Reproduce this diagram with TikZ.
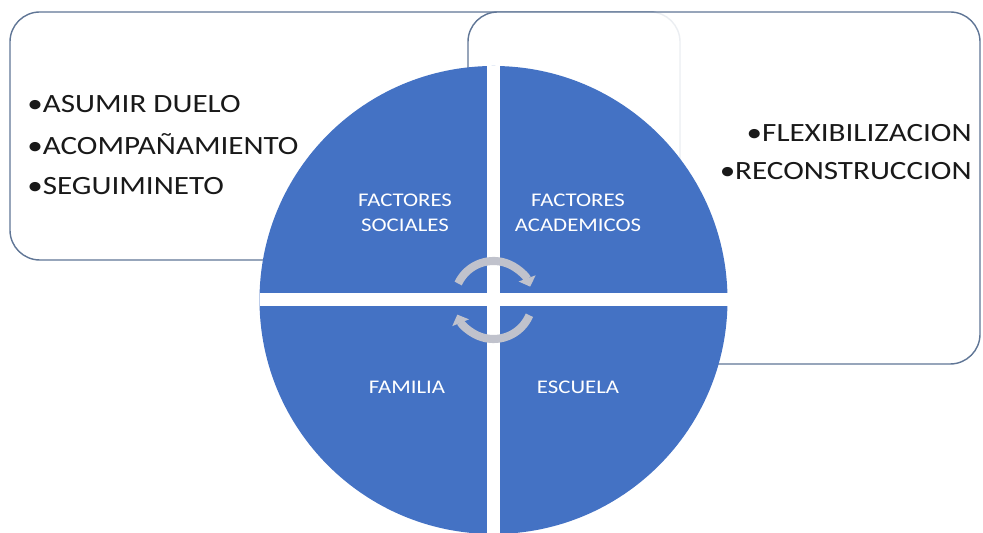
\documentclass[tikz,border=0pt]{standalone}
\usepackage{fontspec}
\setmainfont[FakeStretch=1.18]{Carlito}
\usetikzlibrary{arrows.meta}
\definecolor{quadblue}{RGB}{68,114,196}
\definecolor{boxline}{RGB}{96,118,150}
\definecolor{cyclegray}{RGB}{192,194,204}

\begin{document}
\begin{tikzpicture}[x=0.02cm,y=0.02cm,
        listtext/.style={font=\fontsize{15}{18}\selectfont, text=black!90, inner sep=0pt},
        quadtext/.style={font=\fontsize{11}{14}\selectfont, text=white, align=center, inner sep=0pt},
        cyclearrow/.style={cyclegray, line width=4.6pt, -{Triangle[length=5pt,width=10pt]}}]
            \useasboundingbox (0,0) rectangle (983,533);

            % boxes behind the circle
            \draw[boxline, line width=0.8pt, rounded corners=17pt, fill=white] (10,273) rectangle (680,521);
            \draw[boxline, line width=0.8pt, rounded corners=17pt, fill=white, fill opacity=0.88] (468,169) rectangle (980,521);

            % circle cut in four
            \coordinate (c) at (493.5,233);
            \fill[quadblue] (c) circle (234);
            \draw[white, line width=7.4pt] (c) ++(-234,0) -- ++(468,0);
            \draw[white, line width=7.4pt] (c) ++(0,-234) -- ++(0,468);

            \draw[cyclearrow] (c) ++(155:39) arc (155:20:39);
            \draw[cyclearrow] (c) ++(-23:39) arc (-23:-158:39);

            \node[quadtext] (soc) at (405,320) {FACTORES\\SOCIALES};
            \node[quadtext] (acad) at (578,320) {FACTORES\\ACADEMICOS};
            \node[quadtext] (fam) at (407,146) {FAMILIA};
            \node[quadtext] (esc) at (578,146) {ESCUELA};

            \node[listtext, anchor=base west] (duelo) at (27,420) {•ASUMIR DUELO};
            \node[listtext, anchor=base west] (acomp) at (27,378) {•ACOMPAÑAMIENTO};
            \node[listtext, anchor=base west] (segui) at (27,338) {•SEGUIMINETO};
            \node[listtext, anchor=base east] (flex) at (972,391) {•FLEXIBILIZACION};
            \node[listtext, anchor=base east] (recon) at (972,353) {•RECONSTRUCCION};

        \end{tikzpicture}
\end{document}
